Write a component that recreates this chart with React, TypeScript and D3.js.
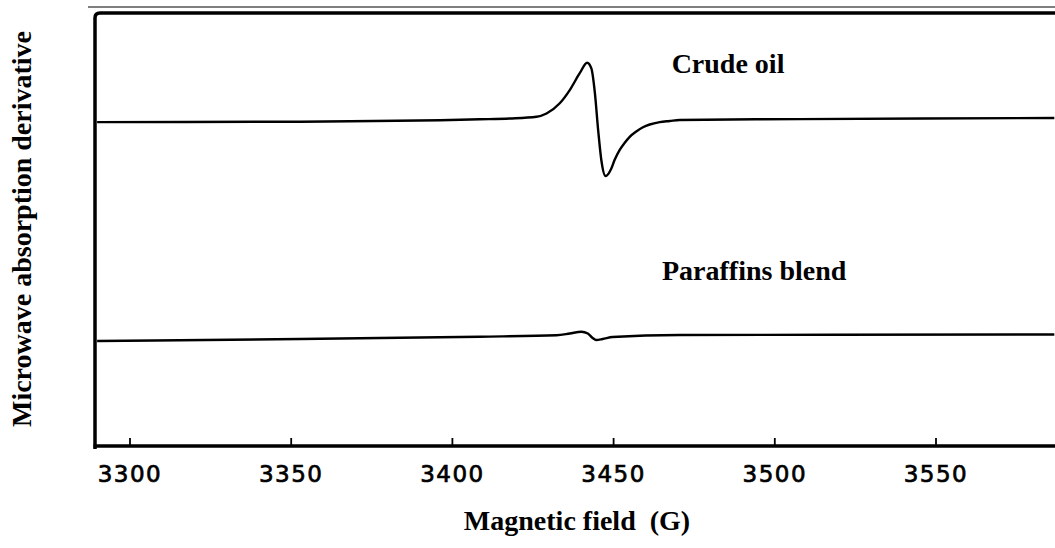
import React, { useEffect, useRef } from 'react';
import * as d3 from 'd3';

// x ticks (G)
const fieldTicks = [3300, 3350, 3400, 3450, 3500, 3550];

// crude oil trace: field (G) and signal (a.u.)
const crudeField = [3289.8, 3352.7, 3408.5, 3417.8, 3426.1, 3429.2, 3433.3, 3436.4, 3439.5, 3441.8, 3443.1, 3444.2, 3445.2, 3446.2, 3447.5, 3449.3, 3450.3, 3451.9, 3453.4, 3455.0, 3456.8, 3459.1, 3461.2, 3464.3, 3467.4, 3470.5, 3507.7, 3586.7];
const crudeSignal = [7.48, 7.49, 7.545, 7.564, 7.605, 7.68, 7.915, 8.22, 8.61, 8.85, 8.72, 8.15, 7.30, 6.60, 6.235, 6.41, 6.605, 6.84, 6.998, 7.14, 7.25, 7.36, 7.425, 7.48, 7.506, 7.53, 7.55, 7.575];

// paraffins blend trace
const paraffinField = [3289.8, 3352.7, 3408.5, 3432.3, 3436.4, 3440.0, 3442.0, 3443.5, 3444.6, 3446.6, 3449.7, 3470.5, 3586.7];
const paraffinSignal = [2.425, 2.47, 2.524, 2.557, 2.598, 2.64, 2.598, 2.494, 2.448, 2.47, 2.517, 2.563, 2.575];

const seriesLabels = ['Crude oil', 'Paraffins blend'];
const labelField = [3468, 3465];
const labelSignal = [8.61, 3.83];

const App = () => {
    const ref = useRef<SVGSVGElement>(null);

    const width = 1055;
    const height = 548;
    // plot frame
    const frame_left = 95;
    const frame_top = 13;
    const frame_bottom = 446;

    useEffect(() => {
        const svg = d3.select(ref.current);
        svg.selectAll('*').remove();

        const x = d3.scaleLinear().domain([3300, 3550]).range([130, 936]);
        const y = d3.scaleLinear().domain([0, 10]).range([frame_bottom, frame_bottom - 433]);

        // scan line above the frame
        svg.append('line')
            .attr('x1', 88).attr('x2', width)
            .attr('y1', 7).attr('y2', 7)
            .attr('stroke', '#555')
            .attr('stroke-width', 1.3);

        // frame: left + top, slightly rounded corner
        const p = d3.path();
        p.moveTo(frame_left, frame_bottom + 3);
        p.lineTo(frame_left, frame_top + 5);
        p.quadraticCurveTo(frame_left, frame_top, frame_left + 5, frame_top);
        p.lineTo(width, frame_top);
        svg.append('path')
            .attr('d', p.toString())
            .attr('fill', 'none')
            .attr('stroke', '#000')
            .attr('stroke-width', 3.5);

        // bottom axis
        svg.append('line')
            .attr('x1', frame_left - 1.5).attr('x2', width)
            .attr('y1', frame_bottom).attr('y2', frame_bottom)
            .attr('stroke', '#000')
            .attr('stroke-width', 3.5);

        // ticks pointing inward
        svg.selectAll('.tick')
            .data(fieldTicks)
            .enter().append('line')
            .attr('class', 'tick')
            .attr('x1', d => x(d)).attr('x2', d => x(d))
            .attr('y1', frame_bottom).attr('y2', frame_bottom - 8)
            .attr('stroke', '#000')
            .attr('stroke-width', 1.8);

        svg.selectAll('.tick-label')
            .data(fieldTicks)
            .enter().append('text')
            .attr('class', 'tick-label')
            .attr('x', d => x(d))
            .attr('y', 482)
            .attr('text-anchor', 'middle')
            .style('font-family', 'DejaVu Sans, sans-serif')
            .style('font-size', '23px')
            .style('letter-spacing', '1.5px')
            .attr('fill', '#000')
            .attr('stroke', '#000')
            .attr('stroke-width', 0.7)
            .text(d => d);

        const line = d3.line<[number, number]>()
            .x(d => x(d[0]))
            .y(d => y(d[1]))
            .curve(d3.curveMonotoneX);

        const crude = crudeField.map((f, i) => [f, crudeSignal[i]] as [number, number]);
        const paraffin = paraffinField.map((f, i) => [f, paraffinSignal[i]] as [number, number]);

        [crude, paraffin].forEach(data => {
            svg.append('path')
                .datum(data)
                .attr('d', line)
                .attr('fill', 'none')
                .attr('stroke', '#000')
                .attr('stroke-width', 2.4)
                .attr('stroke-linejoin', 'round');
        });

        // series labels
        svg.selectAll('.series-label')
            .data(seriesLabels)
            .enter().append('text')
            .attr('class', 'series-label')
            .attr('x', (d, i) => x(labelField[i]))
            .attr('y', (d, i) => y(labelSignal[i]))
            .style('font-family', 'Liberation Serif, Times New Roman, serif')
            .style('font-weight', 'bold')
            .style('font-size', '28px')
            .attr('fill', '#000')
            .text(d => d);

        // x title
        svg.append('text')
            .attr('x', 577)
            .attr('y', 530)
            .attr('text-anchor', 'middle')
            .style('font-family', 'Liberation Serif, Times New Roman, serif')
            .style('font-weight', 'bold')
            .style('font-size', '28px')
            .attr('fill', '#000')
            .text('Magnetic field\u00a0\u00a0(G)');

        // y title
        svg.append('text')
            .attr('transform', 'translate(31,229) rotate(-90)')
            .attr('text-anchor', 'middle')
            .style('font-family', 'Liberation Serif, Times New Roman, serif')
            .style('font-weight', 'bold')
            .style('font-size', '28px')
            .attr('fill', '#000')
            .text('Microwave absorption derivative');
    }, []);

    return (
        <svg
            ref={ref}
            width={width}
            height={height}
            style={{ position: 'absolute', left: 0, top: 0, background: '#fff' }}
        />
    );
};

export default App;
